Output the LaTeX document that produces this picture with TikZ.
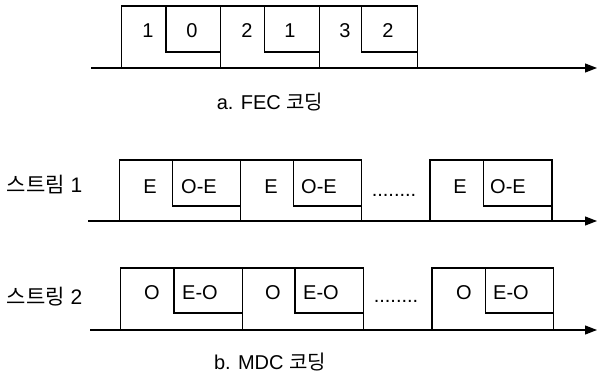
\documentclass[tikz,border=0pt]{standalone}
\usepackage{fontspec}
\setmainfont{Liberation Sans}
\newfontfamily\kr{Noto Sans CJK KR}
\usetikzlibrary{arrows.meta}

\begin{document}
\begin{tikzpicture}[x=1pt, y=-1pt, line width=1.2pt,
    pkt/.style={draw, rectangle, inner sep=0pt, outer sep=0pt, anchor=north west},
    sub/.style={draw, rectangle, inner sep=0pt, outer sep=0pt, anchor=north east},
    txt/.style={inner sep=0pt, font=\fontsize{20pt}{23pt}\selectfont},
    axis/.style={-{Triangle[length=12pt, width=9pt]}}]
    \useasboundingbox (0,0) rectangle (598,374);

    % a. FEC
    \node[pkt, minimum width=98.7pt, minimum height=62pt] (f1) at (121.7,6) {};
    \node[pkt, minimum width=98.7pt, minimum height=62pt] (f2) at (220.4,6) {};
    \node[pkt, minimum width=98.7pt, minimum height=62pt] (f3) at (319.1,6) {};
    \node[sub, minimum width=54.5pt, minimum height=46pt] (f1in) at (f1.north east) {};
    \node[sub, minimum width=55pt, minimum height=46pt] (f2in) at (f2.north east) {};
    \node[sub, minimum width=56pt, minimum height=46pt] (f3in) at (f3.north east) {};
    \node[txt] (f1d) at (148,31) {1};
    \node[txt] (f1p) at (192,31) {0};
    \node[txt] (f2d) at (247,31) {2};
    \node[txt] (f2p) at (290,31) {1};
    \node[txt] (f3d) at (345,31) {3};
    \node[txt] (f3p) at (388,31) {2};
    \coordinate (fs) at (91,68);
    \coordinate (fe) at (597,68);
    \draw[axis] (fs) -- (fe);
    \node[txt] (capa) at (270,102) {a. FEC {\kr 코딩}};

    % b. MDC, stream 1
    \node[txt, font=\fontsize{21pt}{24pt}\selectfont] (s1) at (44.5,185) {{\kr 스트림} 1};
    \node[pkt, minimum width=121pt, minimum height=61pt] (e1) at (119.5,160) {};
    \node[pkt, minimum width=121pt, minimum height=61pt] (e2) at (240.5,160) {};
    \node[pkt, minimum width=122pt, minimum height=61pt] (e3) at (430,160) {};
    \node[sub, minimum width=68.2pt, minimum height=46pt] (e1in) at (e1.north east) {};
    \node[sub, minimum width=68pt, minimum height=46pt] (e2in) at (e2.north east) {};
    \node[sub, minimum width=68.7pt, minimum height=46pt] (e3in) at (e3.north east) {};
    \node[txt] (e1d) at (150,187) {E};
    \node[txt] (e1p) at (199,187) {O-E};
    \node[txt] (e2d) at (271,187) {E};
    \node[txt] (e2p) at (319,187) {O-E};
    \node[txt] (e3d) at (460,187) {E};
    \node[txt] (e3p) at (508,187) {O-E};
    \node[txt, anchor=base] (e23) at (394,197) {........};
    \coordinate (es) at (88,221);
    \coordinate (ee) at (597,221);
    \draw[axis] (es) -- (ee);

    % b. MDC, stream 2
    \node[txt, font=\fontsize{21pt}{24pt}\selectfont] (s2) at (44.5,297) {{\kr 스트링} 2};
    \node[pkt, minimum width=121.6pt, minimum height=62pt] (o1) at (120.7,268) {};
    \node[pkt, minimum width=121.2pt, minimum height=62pt] (o2) at (242.3,268) {};
    \node[pkt, minimum width=121.7pt, minimum height=62pt] (o3) at (432,268) {};
    \node[sub, minimum width=68.3pt, minimum height=45pt] (o1in) at (o1.north east) {};
    \node[sub, minimum width=68.5pt, minimum height=45pt] (o2in) at (o2.north east) {};
    \node[sub, minimum width=68pt, minimum height=45pt] (o3in) at (o3.north east) {};
    \node[txt] (o1d) at (152,293) {O};
    \node[txt] (o1p) at (200,293) {E-O};
    \node[txt] (o2d) at (273,293) {O};
    \node[txt] (o2p) at (321,293) {E-O};
    \node[txt] (o3d) at (464,293) {O};
    \node[txt] (o3p) at (511,293) {E-O};
    \node[txt, anchor=base] (o23) at (396,303) {........};
    \coordinate (os) at (90,330);
    \coordinate (oe) at (597,330);
    \draw[axis] (os) -- (oe);
    \node[txt] (capb) at (270,362) {b. MDC {\kr 코딩}};
\end{tikzpicture}
\end{document}
